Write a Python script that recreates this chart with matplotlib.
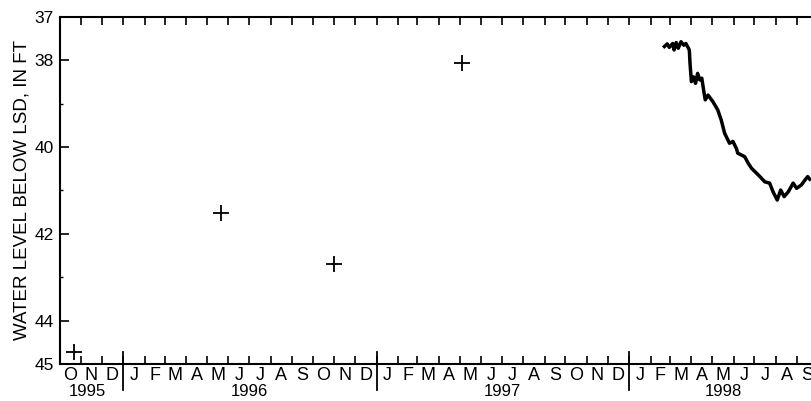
import numpy as np
import matplotlib
matplotlib.use("Agg")
import matplotlib.pyplot as plt
import matplotlib.transforms as mtransforms
import pandas as pd

plt.rcParams['font.family'] = ['Liberation Sans', 'DejaVu Sans']

# periodic (tape-down) measurements
manual_dates = ['1995-10-22', '1996-05-22', '1996-10-31', '1997-05-04']
manual_levels = [44.72, 41.52, 42.69, 38.06]

# continuous recorder, 1998
rec_dates = ['1998-02-21', '1998-02-25', '1998-02-28', '1998-03-05', '1998-03-07',
             '1998-03-10', '1998-03-13', '1998-03-17', '1998-03-21', '1998-03-24',
             '1998-03-29', '1998-03-30', '1998-04-01', '1998-04-04', '1998-04-07',
             '1998-04-10', '1998-04-13', '1998-04-16', '1998-04-19', '1998-04-21',
             '1998-04-25', '1998-05-02', '1998-05-09', '1998-05-14', '1998-05-19',
             '1998-05-26', '1998-05-31', '1998-06-05', '1998-06-07', '1998-06-12',
             '1998-06-17', '1998-06-22', '1998-06-27', '1998-07-04', '1998-07-09',
             '1998-07-16', '1998-07-23', '1998-07-28', '1998-08-03', '1998-08-08',
             '1998-08-13', '1998-08-19', '1998-08-26', '1998-08-31', '1998-09-07',
             '1998-09-12', '1998-09-16', '1998-09-19']
rec_levels = [37.68, 37.62, 37.70, 37.61, 37.76,
              37.59, 37.72, 37.57, 37.65, 37.61,
              37.76, 38.07, 38.49, 38.38, 38.53,
              38.30, 38.45, 38.41, 38.72, 38.91,
              38.80, 38.95, 39.14, 39.37, 39.68,
              39.91, 39.87, 40.03, 40.14, 40.18,
              40.22, 40.37, 40.49, 40.60, 40.68,
              40.80, 40.83, 41.03, 41.22, 40.99,
              41.14, 41.03, 40.83, 40.95, 40.87,
              40.76, 40.68, 40.74]

month_letters = list("JFMAMJJASOND")
years = [1995, 1996, 1997, 1998]
year_label_dates = ['1995-11-10', '1996-07-01', '1997-07-02', '1998-05-17']

x_start = pd.Timestamp('1995-10-01')
x_end = pd.Timestamp('1998-10-01')

fig = plt.figure(figsize=(8.11, 4.01), dpi=100)
ax = fig.add_axes([0.0734, 0.0923, 0.9353, 0.8653])

ax.plot(pd.to_datetime(rec_dates), rec_levels, color='black', lw=2.5,
        solid_joinstyle='round')
ax.plot(pd.to_datetime(manual_dates), manual_levels, ls='none', marker='+',
        ms=11, mew=1.3, color='black')

ax.set_xlim(x_start, x_end)
ax.set_ylim(45, 37)

# y axis
ax.set_yticks([37, 38, 40, 42, 44, 45])
ax.set_yticks([39, 41, 43], minor=True)
ax.tick_params(axis='y', which='major', direction='in', length=6.5, width=1.2,
               labelsize=12.5, pad=4)
ax.tick_params(axis='y', which='minor', direction='in', length=2, width=1.0)
ax.set_ylabel('WATER LEVEL BELOW LSD, IN FT', fontsize=13.5, labelpad=3)

# x axis: ticks at month boundaries, letters centred in each month
month_starts = pd.date_range(x_start, x_end, freq='MS')
month_mids = month_starts[:-1] + (month_starts[1:] - month_starts[:-1]) / 2
ax.set_xticks(month_starts)
ax.set_xticklabels([])
ax.set_xticks(month_mids, minor=True)
ax.set_xticklabels([month_letters[d.month - 1] for d in month_mids], minor=True)
ax.tick_params(axis='x', which='major', direction='in', length=5.8, width=1.2,
               top=True, bottom=True)
ax.tick_params(axis='x', which='minor', length=0, labelsize=13, pad=2)

trans = mtransforms.blended_transform_factory(ax.transData, ax.transAxes)
for y in years[1:]:
    ax.plot([pd.Timestamp(f'{y}-01-01')] * 2, [0.035, -0.075], color='black',
            lw=1.3, transform=trans, clip_on=False)
for y, d in zip(years, year_label_dates):
    ax.text(pd.Timestamp(d), -0.08, str(y), transform=trans, ha='center',
            va='center', fontsize=12)

for side in ['left', 'bottom', 'top', 'right']:
    ax.spines[side].set_linewidth(1.5)

fig.savefig('out.png', dpi=100, facecolor='white')
